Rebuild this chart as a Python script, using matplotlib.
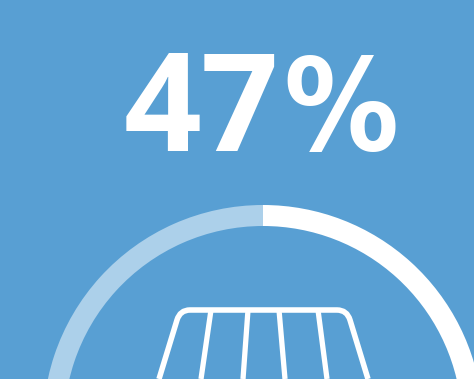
import matplotlib
matplotlib.use("Agg")
import matplotlib.pyplot as plt
from matplotlib.patches import Wedge, PathPatch
from matplotlib.path import Path

# progress ring values
percent = 47
number_label = "47"
percent_sign = "%"
bg_color = "#589fd3"
ring_light = "#acd0ea"
ring_white = "#ffffff"

# basket rail and wires, in pixels
rail_verts = [(159, 379), (177, 320), (180, 310), (190, 310),
              (337, 310), (347, 310), (350, 320), (368, 379)]
rail_codes = [Path.MOVETO, Path.LINETO, Path.CURVE3, Path.CURVE3,
              Path.LINETO, Path.CURVE3, Path.CURVE3, Path.LINETO]
wire_top = [211, 248, 279, 318]
wire_bottom = [201, 243, 285, 327]

fig = plt.figure(figsize=(4.74, 3.79), dpi=100, facecolor=bg_color)
ax = fig.add_axes([0, 0, 1, 1])
ax.set_xlim(0, 474)
ax.set_ylim(379, 0)
ax.axis("off")

# ring: y axis is flipped, so angles run clockwise from +x
cx, cy, r_out, width = 263, 425, 220, 21
end = -90 + 360 * percent / 100
ax.add_patch(Wedge((cx, cy), r_out, -90, end, width=width, color=ring_white, lw=0))
ax.add_patch(Wedge((cx, cy), r_out, end, 270, width=width, color=ring_light, lw=0))

ax.add_patch(PathPatch(Path(rail_verts, rail_codes), fill=False, edgecolor="white",
                       lw=4, joinstyle="round"))
for top, bottom in zip(wire_top, wire_bottom):
    ax.plot([top, bottom], [310, 379], color="white", lw=3.8, solid_capstyle="butt")

# the sign sits a little taller than the digits
ax.text(201, 151, number_label, color="white", fontsize=98, fontweight="bold",
        family="Open Sans", ha="center", va="baseline")
ax.text(341, 150, percent_sign, color="white", fontsize=92, fontweight="bold",
        family="DejaVu Sans", stretch="condensed", ha="center", va="baseline")

fig.savefig("out.png", dpi=100, facecolor=bg_color)
